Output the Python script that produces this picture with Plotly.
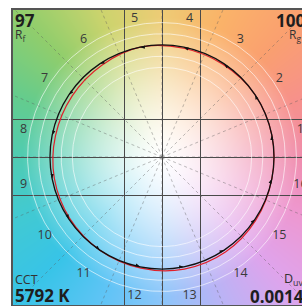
import base64, struct, zlib
import numpy as np
import plotly.graph_objects as go

# ---------------- data ----------------
bins = list(range(1, 17))
bin_labels = [str(b) for b in bins]
ref_radius = [1.0] * 16                      # reference (normalised) chroma per hue bin
test_radius = [1.00, 1.00, 0.99, 0.99, 1.00, 0.98, 0.97, 0.97,
               0.98, 0.99, 1.00, 1.01, 1.02, 1.02, 1.01, 1.00]
test_hue_shift = [0.0, 0.5, 0.5, 0.0, 0.0, -0.5, -0.5, 0.0,
                  0.0, 0.0, 0.5, 0.5, 0.0, 0.0, -0.5, 0.0]   # degrees
Rf = "97"
Rg = "100"
CCT = "5792 K"
Duv = "0.0014"
guide_circles = [0.8, 0.9, 1.1, 1.2]

# ---------------- geometry helpers ----------------
S = 112.0          # px per unit
CX, CY = 162.0, 157.0
ML, MR, MT, MB = 13, 0, 10, 1
W, H = 302, 306
pw, ph = W - ML - MR, H - MT - MB
def px2x(px): return (px - CX) / S
def py2y(py): return (CY - py) / S
def px2p(px): return (px - ML) / pw
def py2p(py): return (H - MB - py) / ph
xmin, xmax = px2x(ML), px2x(W - MR)
ymax, ymin = py2y(MT), py2y(H - MB)

bin_angle = np.radians(11.25 + 22.5 * np.arange(16))

# ---------------- background image ----------------
anc_deg = [0, 22.5, 45, 67.5, 90, 112.5, 135, 157.5, 180, 202.5, 225, 247.5, 270, 292.5, 315, 337.5, 360]
anc_rgb = np.array([
    (240, 140, 172), (247, 145, 140), (250, 160, 112), (250, 180, 105),
    (238, 204, 118), (205, 212, 110), (145, 206, 108), (100, 204, 142),
    (80, 204, 178), (66, 202, 210), (56, 196, 232), (96, 196, 246),
    (140, 198, 250), (186, 180, 246), (224, 164, 236), (238, 152, 208),
    (240, 140, 172)], dtype=float)
xs = xmin + (np.arange(pw) + 0.5) / S
ys = ymax - (np.arange(ph) + 0.5) / S
X, Y = np.meshgrid(xs, ys)
R = np.hypot(X, Y)
A = np.degrees(np.arctan2(Y, X)) % 360
sat = np.clip(R / 1.25, 0, 1) ** 1.35
img = np.empty((ph, pw, 3))
for c in range(3):
    col = np.interp(A, anc_deg, anc_rgb[:, c])
    img[..., c] = 255 + (col - 255) * sat
img = np.clip(img, 0, 255).astype(np.uint8)

def make_png(a):
    h, w, _ = a.shape
    raw = b"".join(b"\x00" + a[i].tobytes() for i in range(h))
    def chunk(t, d):
        c = struct.pack(">I", len(d)) + t + d
        return c + struct.pack(">I", zlib.crc32(t + d) & 0xffffffff)
    return (b"\x89PNG\r\n\x1a\n" + chunk(b"IHDR", struct.pack(">IIBBBBB", w, h, 8, 2, 0, 0, 0))
            + chunk(b"IDAT", zlib.compress(raw, 9)) + chunk(b"IEND", b""))
src = "data:image/png;base64," + base64.b64encode(make_png(img)).decode()

# ---------------- figure ----------------
fig = go.Figure()

# radial hue-bin boundaries
for k in range(16):
    a = np.radians(22.5 * k)
    fig.add_trace(go.Scatter(x=[0, 2 * np.cos(a)], y=[0, 2 * np.sin(a)], mode="lines",
                             line=dict(color="rgba(90,90,90,0.5)", width=0.8, dash="dot"),
                             hoverinfo="skip"))
# guide circles
t = np.linspace(0, 2 * np.pi, 361)
for rc in guide_circles:
    fig.add_trace(go.Scatter(x=rc * np.cos(t), y=rc * np.sin(t), mode="lines",
                             line=dict(color="rgba(255,255,255,0.6)", width=1),
                             hoverinfo="skip"))
# test (red)
ta = bin_angle + np.radians(test_hue_shift)
tx = np.array(test_radius) * np.cos(ta)
ty = np.array(test_radius) * np.sin(ta)
fig.add_trace(go.Scatter(x=np.append(tx, tx[0]), y=np.append(ty, ty[0]), mode="lines",
                         line=dict(color="#e0202a", width=1.2, shape="spline", smoothing=1.0),
                         hoverinfo="skip"))
# reference (black) with arrows
rx = np.array(ref_radius) * np.cos(bin_angle)
ry = np.array(ref_radius) * np.sin(bin_angle)
fig.add_trace(go.Scatter(x=np.append(rx, rx[0]), y=np.append(ry, ry[0]), mode="lines+markers",
                         line=dict(color="#111111", width=1.3, shape="spline", smoothing=1.0),
                         marker=dict(symbol="arrow", size=5, color="#111111", angleref="previous"),
                         hoverinfo="skip"))

# bin labels
lab_r = 1.26
fig.add_trace(go.Scatter(x=lab_r * np.cos(bin_angle), y=lab_r * np.sin(bin_angle), mode="text",
                         text=bin_labels, textposition="middle center",
                         textfont=dict(family="Open Sans", size=12.5, color="#3a3a3a"),
                         hoverinfo="skip", cliponaxis=False))

ann = []
def add(text, px, py, xa, size, bold=False, color="#2a2a2a"):
    ann.append(dict(x=px2p(px), y=py2p(py), xref="paper", yref="paper",
                    text=("<b>%s</b>" % text) if bold else text,
                    showarrow=False, xanchor=xa, yanchor="middle", borderpad=0,
                    font=dict(family="Open Sans", size=size, color=color)))
add(Rf, 14, 21, "left", 17, True, "#1e1e1e")
add("R<sub>f</sub>", 14, 35, "left", 12, False, "#333")
add(Rg, 306, 21, "right", 17, True, "#1e1e1e")
add("R<sub>g</sub>", 302, 35, "right", 12, False, "#333")
add("CCT", 14, 279, "left", 12.5, False, "#333")
add(CCT, 14, 295, "left", 17, True, "#1e1e1e")
add("D<sub>uv</sub>", 304, 279, "right", 12.5, False, "#333")
add(Duv, 305, 296, "right", 17, True, "#1e1e1e")

g = 38 / S
fig.update_layout(
    width=W, height=H, margin=dict(l=ML, r=MR, t=MT, b=MB, pad=0),
    paper_bgcolor="white", plot_bgcolor="rgba(0,0,0,0)",
    showlegend=False, hovermode=False, annotations=ann,
    images=[dict(source=src, xref="x", yref="y", x=xmin, y=ymax, sizex=xmax - xmin, sizey=ymax - ymin,
                 sizing="stretch", layer="below", xanchor="left", yanchor="top")],
    xaxis=dict(range=[xmin, xmax], tickvals=[-g, 0, g], showticklabels=False, ticks="",
               showgrid=True, gridcolor="#4a4a4a", gridwidth=1, zeroline=False,
               showline=True, mirror=True, linecolor="#555", linewidth=1.5, fixedrange=True),
    yaxis=dict(range=[ymin, ymax], tickvals=[-g, 0, g], showticklabels=False, ticks="",
               showgrid=True, gridcolor="#4a4a4a", gridwidth=1, zeroline=False,
               showline=True, mirror=False, linecolor="#555", linewidth=1.5, fixedrange=True),
)
fig.write_html("out.html", config={"displayModeBar": False},
               post_script="document.body.style.margin='0';document.body.style.overflow='hidden';")
